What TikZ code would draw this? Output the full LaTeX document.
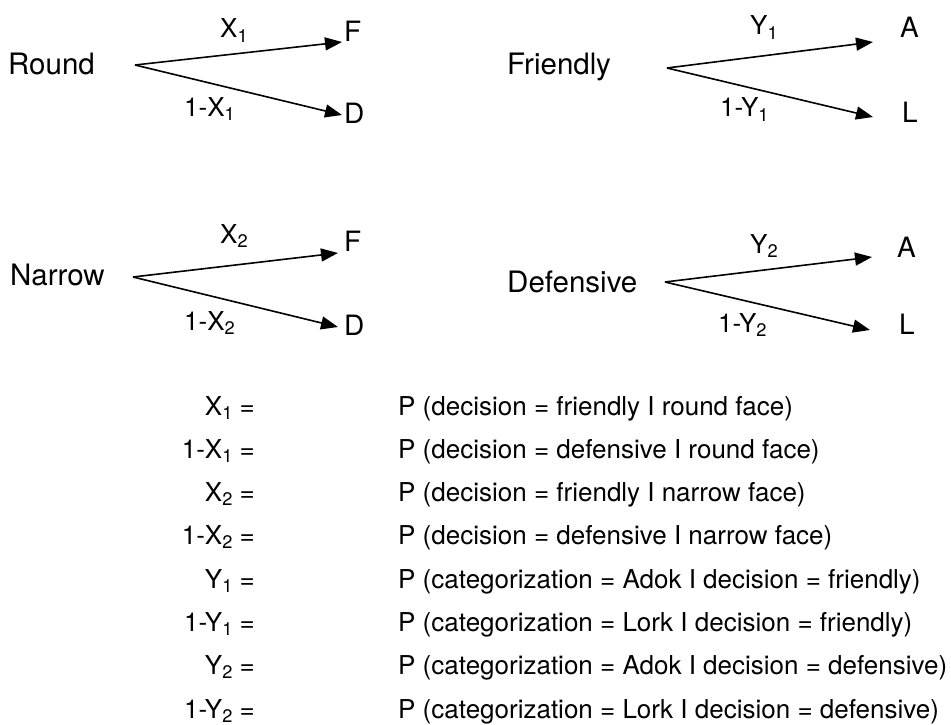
\documentclass[tikz,border=0pt]{standalone}
\usepackage{fontspec}
\usepackage{graphicx}
\setmainfont{TeX Gyre Heros}
\usetikzlibrary{arrows.meta}
\newcommand\subs[1]{\raisebox{-0.3ex}{\scalebox{0.7}{#1}}}
\tikzset{
  big/.style={inner sep=0pt, font=\fontsize{29.5}{34}\selectfont},
  leaf/.style={inner sep=0pt, font=\fontsize{28}{32}\selectfont},
  blab/.style={inner sep=0pt, font=\fontsize{26}{30}\selectfont},
  eqleft/.style={inner sep=0pt, anchor=base east, font=\fontsize{26}{30}\selectfont},
  eqright/.style={inner sep=0pt, anchor=base west, font=\fontsize{26}{30}\selectfont},
  branch/.style={line width=1.6pt, -{Triangle[length=17pt,width=13pt]}},
}
\begin{document}
\begin{tikzpicture}[x=1pt,y=-1pt]
\useasboundingbox (0,0) rectangle (951,725);
% Tree 1
\node[big, anchor=base west] (round) at (8,75) {Round};
\coordinate (r0) at (135,65);
\coordinate (rF) at (342,42);
\coordinate (rD) at (342,115);
\draw[branch] (r0) -- (rF);
\draw[branch] (r0) -- (rD);
\node[leaf, anchor=base west] (f1) at (344,42) {F};
\node[leaf, anchor=base west] (d1) at (344,124) {D};
\node[blab, anchor=base west] (x1) at (220,38) {X\subs{1}};
\node[blab, anchor=base west] (nx1) at (184,116) {1-X\subs{1}};
% Tree 2
\node[big, anchor=base west] (friendly) at (507,75) {Friendly};
\coordinate (f0) at (667,68);
\coordinate (fA) at (873,42);
\coordinate (fL) at (873,117);
\draw[branch] (f0) -- (fA);
\draw[branch] (f0) -- (fL);
\node[leaf, anchor=base west] (a1) at (900,38) {A};
\node[leaf, anchor=base west] (l1) at (902,122) {L};
\node[blab, anchor=base west] (y1) at (750,35) {Y\subs{1}};
\node[blab, anchor=base west] (ny1) at (720,117) {1-Y\subs{1}};
% Tree 3
\node[big, anchor=base west] (narrow) at (10,285) {Narrow};
\coordinate (n0) at (133,277);
\coordinate (nF) at (338,253);
\coordinate (nD) at (338,327);
\draw[branch] (n0) -- (nF);
\draw[branch] (n0) -- (nD);
\node[leaf, anchor=base west] (f2) at (344,251) {F};
\node[leaf, anchor=base west] (d2) at (344,335) {D};
\node[blab, anchor=base west] (x2) at (220,243) {X\subs{2}};
\node[blab, anchor=base west] (nx2) at (184,330) {1-X\subs{2}};
% Tree 4
\node[big, anchor=base west] (defensive) at (507,292) {Defensive};
\coordinate (d0) at (665,282);
\coordinate (dA) at (872,257);
\coordinate (dL) at (870,330);
\draw[branch] (d0) -- (dA);
\draw[branch] (d0) -- (dL);
\node[leaf, anchor=base west] (a2) at (897,257) {A};
\node[leaf, anchor=base west] (l2) at (899,334) {L};
\node[blab, anchor=base west] (y2) at (750,253) {Y\subs{2}};
\node[blab, anchor=base west] (ny2) at (718,332) {1-Y\subs{2}};
% Equations
\node[eqleft] (e1l) at (255,415.0) {X\subs{1} =};
\node[eqleft] (e2l) at (255,458.3) {1-X\subs{1} =};
\node[eqleft] (e3l) at (255,501.6) {X\subs{2} =};
\node[eqleft] (e4l) at (255,544.9) {1-X\subs{2} =};
\node[eqleft] (e5l) at (255,588.2) {Y\subs{1} =};
\node[eqleft] (e6l) at (255,631.5) {1-Y\subs{1} =};
\node[eqleft] (e7l) at (255,674.8) {Y\subs{2} =};
\node[eqleft] (e8l) at (255,718.1) {1-Y\subs{2} =};
\node[eqright] (e1r) at (398,415.0) {P (decision = friendly I round face)};
\node[eqright] (e2r) at (398,458.3) {P (decision = defensive I round face)};
\node[eqright] (e3r) at (398,501.6) {P (decision = friendly I narrow face)};
\node[eqright] (e4r) at (398,544.9) {P (decision = defensive I narrow face)};
\node[eqright] (e5r) at (398,588.2) {P (categorization = Adok I decision = friendly)};
\node[eqright] (e6r) at (398,631.5) {P (categorization = Lork I decision = friendly)};
\node[eqright] (e7r) at (398,674.8) {P (categorization = Adok I decision = defensive)};
\node[eqright] (e8r) at (398,718.1) {P (categorization = Lork I decision = defensive)};
\end{tikzpicture}
\end{document}
